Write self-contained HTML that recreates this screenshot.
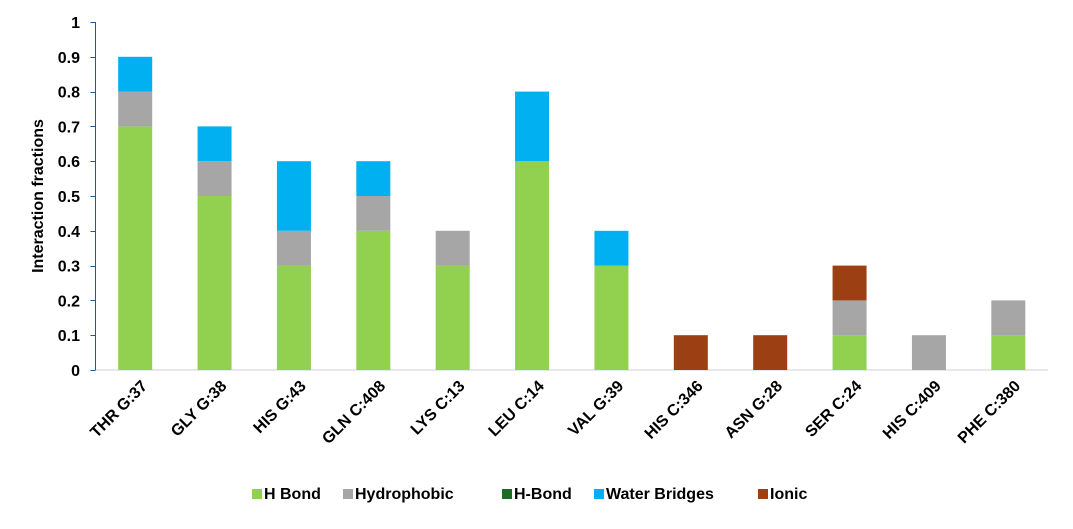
<!DOCTYPE html>
<html><head><meta charset="utf-8"><style>
body{margin:0;background:#fff;font-family:"Liberation Sans",Arial,sans-serif}
svg text{font-family:"Liberation Sans",Arial,sans-serif;font-weight:bold;fill:#000}
</style></head><body>
<svg id="chart" width="1073" height="524" xmlns="http://www.w3.org/2000/svg"></svg>
<script>
const categories=["THR G:37","GLY G:38","HIS G:43","GLN C:408","LYS C:13","LEU C:14","VAL G:39","HIS C:346","ASN G:28","SER C:24","HIS C:409","PHE C:380"];
const hBond=[0.7,0.5,0.3,0.4,0.3,0.6,0.3,0,0,0.1,0,0.1];
const hydrophobic=[0.1,0.1,0.1,0.1,0.1,0,0,0,0,0.1,0.1,0.1];
const hBond2=[0,0,0,0,0,0,0,0,0,0,0,0];
const waterBridges=[0.1,0.1,0.2,0.1,0,0.2,0.1,0,0,0,0,0];
const ionic=[0,0,0,0,0,0,0,0.1,0.1,0.1,0,0];
const yTicks=[0,0.1,0.2,0.3,0.4,0.5,0.6,0.7,0.8,0.9,1];
const yTickLabels=["0","0.1","0.2","0.3","0.4","0.5","0.6","0.7","0.8","0.9","1"];
const seriesNames=["H Bond","Hydrophobic","H-Bond","Water Bridges","Ionic"];
const seriesData=[hBond,hydrophobic,hBond2,waterBridges,ionic];
const colors=["#92d050","#a6a6a6","#1e6b23","#00b0f0","#9c3f12"];
const NS="http://www.w3.org/2000/svg";
const svg=document.getElementById('chart');
const L=95.5,R=1048,T=22,B=370;
const step=(R-L)/categories.length;
const x=i=>L+step*(i+0.5);
const y=v=>B-(B-T)*v;
function mk(t,a){const e=document.createElementNS(NS,t);for(const k in a)e.setAttribute(k,a[k]);svg.appendChild(e);return e;}
const xl=mk('line',{x1:L,y1:B,x2:R,y2:B,stroke:'#d0d0d0','stroke-width':1});


yTicks.forEach((v,i)=>{
 const t=mk('text',{x:80,y:y(v)+6,'text-anchor':'end','font-size':16});
 t.textContent=yTickLabels[i];
 
 
 const tm=mk('line',{x1:L-5,y1:Math.round(y(v))+0.5,x2:L,y2:Math.round(y(v))+0.5,stroke:'#1f5a8a','stroke-width':1});
 
 
});
const yl=mk('line',{x1:L,y1:T,x2:L,y2:B,stroke:'#1f5a8a','stroke-width':1});


const yt=mk('text',{x:0,y:0,'text-anchor':'middle','font-size':16,transform:`translate(43,${(T+B)/2}) rotate(-90)`});
yt.textContent="Interaction fractions";


const bw=34;
categories.forEach((c,i)=>{
 let base=0;
 seriesData.forEach((s,k)=>{
  const v=s[i];
  if(v>0){
   const r=mk('rect',{x:x(i)-bw/2,y:y(base+v),width:bw,height:y(base)-y(base+v),fill:colors[k]});
   
   
  }
  base+=v;
 });
 const t=mk('text',{x:0,y:0,'text-anchor':'end','font-size':16,transform:`translate(${x(i)+13},${B+17}) rotate(-45)`});
 t.textContent=c;
 
 
});
const lx=[252,343,502,594,758];
seriesNames.forEach((n,k)=>{
 const r=mk('rect',{x:lx[k],y:489,width:10,height:10,fill:colors[k]});
 
 
 const t=mk('text',{x:lx[k]+12,y:499,'font-size':16});
 t.textContent=n;
 
 
});
</script>
</body></html>
